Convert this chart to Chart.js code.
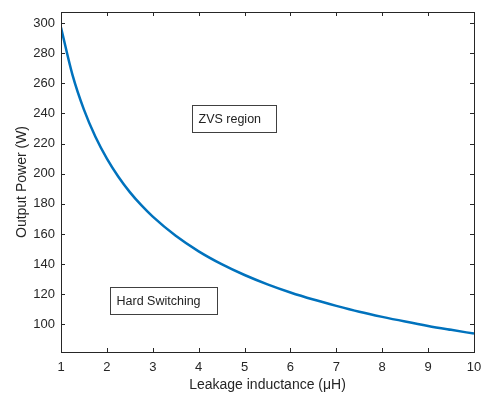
<!DOCTYPE html>
<html>
<head>
<meta charset="utf-8">
<script src="https://cdn.jsdelivr.net/npm/chart.js@4.4.1/dist/chart.umd.min.js"></script>
<style>
  html, body { margin: 0; padding: 0; background: #fff; }
  #wrap { width: 481px; height: 394px; }
</style>
</head>
<body>
<div id="wrap"><canvas id="power"></canvas></div>
<script>
// leakage inductance (uH) and the output power at the ZVS boundary (W)
const inductance = [1, 1.25, 1.5, 1.75, 2, 2.25, 2.5, 2.75, 3, 3.5, 4, 4.5, 5, 5.5, 6, 6.5, 7, 7.5, 8, 8.5, 9, 9.5, 10];
const outputPower = [297, 265.6, 242.5, 224.5, 210, 198, 187.8, 179.1, 171.5, 158.8, 148.5, 140, 132.8, 126.6, 121.2, 116.5, 112.3, 108.4, 105, 101.9, 99, 96.4, 93.9];
const xTicks = [1, 2, 3, 4, 5, 6, 7, 8, 9, 10];
const yTicks = [100, 120, 140, 160, 180, 200, 220, 240, 260, 280, 300];

// text boxes: [left x, top y] in data units
const regionLabels = [
    { text: "ZVS region", x: 3.85, y: 245.5, w: 84, h: 27 },
    { text: "Hard Switching", x: 2.07, y: 124.5, w: 107, h: 27 }
];

const axisColor = "#262626";
const lineColor = "#0072BD";
const fontFamily = "'Liberation Sans', Arial, sans-serif";

// box around plot area with inward ticks on all four sides, plus text boxes
const boxPlugin = {
    id: "boxPlugin",
    afterDraw(chart) {
        const ctx = chart.ctx;
        const a = chart.chartArea;
        const xs = chart.scales.x, ys = chart.scales.y;
        ctx.save();
        ctx.strokeStyle = axisColor;
        ctx.lineWidth = 1;
        ctx.strokeRect(Math.round(a.left) + 0.5, Math.round(a.top) + 0.5,
            Math.round(a.right - a.left), Math.round(a.bottom - a.top));
        ctx.beginPath();
        xTicks.forEach(v => {
            const px = Math.round(xs.getPixelForValue(v)) + 0.5;
            ctx.moveTo(px, a.bottom); ctx.lineTo(px, a.bottom - 4);
            ctx.moveTo(px, a.top); ctx.lineTo(px, a.top + 4);
        });
        yTicks.forEach(v => {
            const py = Math.round(ys.getPixelForValue(v)) + 0.5;
            ctx.moveTo(a.left, py); ctx.lineTo(a.left + 4, py);
            ctx.moveTo(a.right, py); ctx.lineTo(a.right - 4, py);
        });
        ctx.stroke();

        ctx.font = "12.5px " + fontFamily;
        ctx.textBaseline = "middle";
        ctx.textAlign = "left";
        regionLabels.forEach(b => {
            const bx = Math.round(xs.getPixelForValue(b.x)) + 0.5;
            const by = Math.round(ys.getPixelForValue(b.y)) + 0.5;
            ctx.fillStyle = "#fff";
            ctx.fillRect(bx, by, b.w, b.h);
            ctx.strokeStyle = "#404040";
            ctx.strokeRect(bx, by, b.w, b.h);
            ctx.fillStyle = "#222";
            ctx.fillText(b.text, bx + 6, by + b.h / 2 + 1);
        });
        ctx.restore();
    }
};

new Chart(document.getElementById("power").getContext("2d"), {
    type: "line",
    data: {
        labels: inductance,
        datasets: [{
            data: inductance.map((x, i) => ({ x: x, y: outputPower[i] })),
            borderColor: lineColor,
            borderWidth: 2.5,
            pointRadius: 0,
            cubicInterpolationMode: "monotone",
            fill: false
        }]
    },
    options: {
        responsive: true,
        maintainAspectRatio: false,
        animation: false,
        layout: { autoPadding: false, padding: { top: 12, right: 7, left: 0, bottom: 0 } },
        plugins: { legend: { display: false }, tooltip: { enabled: false } },
        scales: {
            x: {
                type: "linear",
                min: 1, max: 10,
                afterBuildTicks: s => { s.ticks = xTicks.map(v => ({ value: v })); },
                afterFit: s => { s.height = 42; s.paddingLeft = 0; s.paddingRight = 0; },
                grid: { display: false, drawTicks: false },
                border: { display: false },
                ticks: { color: axisColor, padding: 8, font: { family: fontFamily, size: 13 } },
                title: {
                    display: true, text: "Leakage inductance (\u03bcH)", color: axisColor,
                    padding: { top: 0, bottom: 0 },
                    font: { family: fontFamily, size: 14 }
                }
            },
            y: {
                min: 81.7, max: 307.3,
                afterBuildTicks: s => { s.ticks = yTicks.map(v => ({ value: v })); },
                afterFit: s => { s.width = 61; s.paddingTop = 0; s.paddingBottom = 0; },
                grid: { display: false, drawTicks: false },
                border: { display: false },
                ticks: { color: axisColor, padding: 6, font: { family: fontFamily, size: 13 } },
                title: {
                    display: true, text: "Output Power (W)", color: axisColor,
                    padding: { top: 14, bottom: 2 },
                    font: { family: fontFamily, size: 14 }
                }
            }
        }
    },
    plugins: [boxPlugin]
});
</script>
</body>
</html>
